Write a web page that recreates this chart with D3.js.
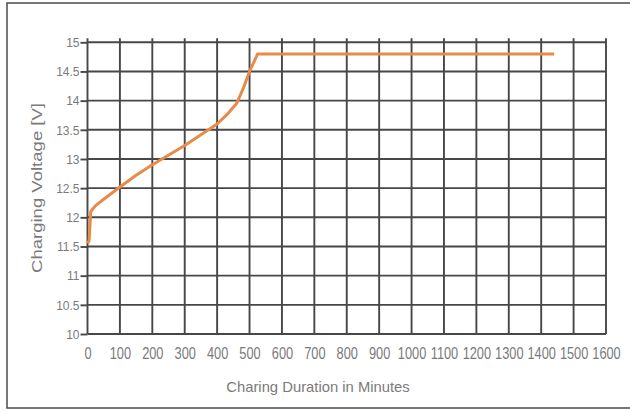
<!DOCTYPE html>
<html><head><meta charset="utf-8">
<script src="https://cdn.jsdelivr.net/npm/d3@7"></script>
<style>
html,body{margin:0;padding:0;background:#fff;}
svg{display:block;}
</style></head>
<body>
<svg id="chart" width="630" height="410"></svg>
<script>
// Data
const minutes = [0, 5, 10, 25, 50, 100, 150, 200, 300, 400, 430, 460, 480, 500, 525, 1440];
const voltage = [11.55, 11.6, 12.1, 12.2, 12.31, 12.52, 12.72, 12.9, 13.23, 13.6, 13.76, 13.95, 14.2, 14.5, 14.8, 14.8];
const xTicks = [0,100,200,300,400,500,600,700,800,900,1000,1100,1200,1300,1400,1500,1600];
const yTicks = [10,10.5,11,11.5,12,12.5,13,13.5,14,14.5,15];
const xTitle = "Charing Duration in Minutes";
const yTitle = "Charging Voltage [V]";

const svg = d3.select("#chart");
const x = d3.scaleLinear().domain([0,1600]).range([87.5,606]);
const y = d3.scaleLinear().domain([10,15]).range([334,42.3]);
const gridColor = "#474747";
const textColor = "#7a7a7a";

// outer frame
svg.append("rect").attr("x",7).attr("y",3).attr("width",640).attr("height",405)
  .attr("fill","none").attr("stroke","#555").attr("stroke-width",1.6);

// grid
svg.append("g").selectAll("line").data(yTicks).join("line")
  .attr("x1",x(0)).attr("x2",x(1600)).attr("y1",d=>y(d)).attr("y2",d=>y(d))
  .attr("stroke",gridColor).attr("stroke-width",1.9);
svg.append("g").selectAll("line").data(xTicks).join("line")
  .attr("x1",d=>x(d)).attr("x2",d=>x(d)).attr("y1",y(15)-4).attr("y2",y(10))
  .attr("stroke",gridColor).attr("stroke-width",1.9);

// y axis
const yAxis = svg.append("g").attr("transform",`translate(${x(0)},0)`)
  .call(d3.axisLeft(y).tickValues(yTicks).tickSize(7).tickPadding(1).tickFormat(d=>String(d)));
yAxis.select(".domain").remove();
yAxis.selectAll(".tick line").attr("stroke",gridColor).attr("stroke-width",1.9);
yAxis.selectAll(".tick text").attr("fill",textColor)
  .style("font-family","Liberation Sans, Arial, sans-serif").style("font-size","12px").attr("dy","0.36em");

// x axis labels
const xAxis = svg.append("g").attr("transform",`translate(0,${y(10)})`)
  .call(d3.axisBottom(x).tickValues(xTicks).tickSize(0).tickPadding(14).tickFormat(d=>String(d)));
xAxis.select(".domain").remove();
xAxis.selectAll(".tick text").attr("fill",textColor)
  .style("font-family","Liberation Sans, Arial, sans-serif").style("font-size","16px")
  .attr("transform","scale(0.8,1)");

// curve
const pts = minutes.map((m,i)=>[m,voltage[i]]);
svg.append("path").datum(pts)
  .attr("fill","none").attr("stroke","#e88a48").attr("stroke-width",3)
  .attr("stroke-linejoin","round").attr("stroke-linecap","butt")
  .attr("d", d3.line().x(d=>x(d[0])).y(d=>y(d[1])));

// titles
svg.append("text").attr("x",318).attr("y",392).attr("text-anchor","middle")
  .attr("fill",textColor).style("font-family","Liberation Sans, Arial, sans-serif")
  .style("font-size","14.8px").text(xTitle);
svg.append("text").attr("transform","translate(42,188) rotate(-90)").attr("text-anchor","middle")
  .attr("fill",textColor).style("font-family","Liberation Sans, Arial, sans-serif")
  .style("font-size","15px").attr("textLength",170).attr("lengthAdjust","spacingAndGlyphs").text(yTitle);
</script>
</body></html>
